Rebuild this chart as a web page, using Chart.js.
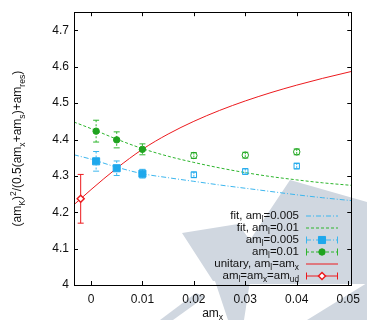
<!DOCTYPE html>
<html>
<head>
<meta charset="utf-8">
<script src="https://cdn.jsdelivr.net/npm/chart.js@4.4.1/dist/chart.umd.min.js"></script>
<style>
    body { margin: 0; background: #fff; }
    #wrap { width: 367px; height: 320px; }
</style>
</head>
<body>
<div id="wrap"><canvas id="chart" width="367" height="320"></canvas></div>
<script>
// tick labels
const xTicks = [0, 0.01, 0.02, 0.03, 0.04, 0.05];
const yTicks = [4, 4.1, 4.2, 4.3, 4.4, 4.5, 4.6, 4.7];

// fit curves
const fitX = [-0.0033, 0, 0.005, 0.01, 0.015, 0.02, 0.025, 0.03, 0.035, 0.04, 0.045, 0.0506];
const fitBlue = [4.358, 4.346, 4.324, 4.306, 4.295, 4.285, 4.275, 4.266, 4.257, 4.248, 4.240, 4.232];
const fitGreen = [4.448, 4.430, 4.401, 4.375, 4.354, 4.337, 4.322, 4.309, 4.298, 4.289, 4.281, 4.274];

// unitary curve
const unitaryX = [-0.0033, -0.002, 0, 0.005, 0.01, 0.015, 0.02, 0.025, 0.03, 0.035, 0.04, 0.045, 0.0506];
const unitaryY = [4.221, 4.237, 4.262, 4.321, 4.373, 4.415, 4.450, 4.480, 4.506, 4.529, 4.5495, 4.568, 4.587];

// data points, light valence masses (used in fit)
const lightX = [0.001, 0.005, 0.01];
const blueY = [4.340, 4.321, 4.306];
const blueErr = [0.027, 0.020, 0.012];
const greenY = [4.423, 4.399, 4.373];
const greenErr = [0.030, 0.022, 0.015];

// heavier valence masses (open symbols)
const heavyX = [0.02, 0.03, 0.04];
const blueOpenY = [4.303, 4.312, 4.327];
const blueOpenErr = [0.008, 0.008, 0.008];
const greenOpenY = [4.356, 4.357, 4.366];
const greenOpenErr = [0.008, 0.008, 0.008];

// physical point
const physX = [-0.002];
const physY = [4.237];
const physErr = [0.067];

const BLUE = '#1ea8ec';
const BLUE_LINE = '#3cb6ee';
const GREEN = '#1fa31f';
const GREEN_LINE = '#2db52d';
const RED = '#ec1a1e';
const FONT = '"Liberation Sans", Arial, sans-serif';

function pts(xs, ys) {
    return xs.map((x, i) => ({ x: x, y: ys[i] }));
}

// tiny markup: _{..} subscript, ^{..} superscript
function parseRich(str) {
    const parts = [];
    const re = /([_^])\{([^}]*)\}|([^_^]+)/g;
    let m;
    while ((m = re.exec(str))) {
        if (m[3]) parts.push({ t: m[3], m: 0 });
        else parts.push({ t: m[2], m: m[1] === '_' ? 1 : 2 });
    }
    return parts;
}

function drawRich(ctx, str, x, y, size, align) {
    const parts = parseRich(str);
    let w = 0;
    parts.forEach(p => {
        ctx.font = (p.m ? size * 0.72 : size) + 'px ' + FONT;
        p.w = ctx.measureText(p.t).width;
        w += p.w;
    });
    let cx = align === 'right' ? x - w : align === 'center' ? x - w / 2 : x;
    ctx.textAlign = 'left';
    ctx.textBaseline = 'alphabetic';
    parts.forEach(p => {
        ctx.font = (p.m ? size * 0.72 : size) + 'px ' + FONT;
        const dy = p.m === 1 ? size * 0.3 : p.m === 2 ? -size * 0.42 : 0;
        ctx.fillText(p.t, cx, y + dy);
        cx += p.w;
    });
}

function drawMarker(ctx, style, x, y, r, fill, stroke, lw) {
    ctx.save();
    ctx.beginPath();
    if (style === 'rect') {
        const s = Math.SQRT1_2 * r;
        ctx.rect(x - s, y - s, 2 * s, 2 * s);
    } else if (style === 'rectRot') {
        ctx.moveTo(x, y - r); ctx.lineTo(x + r, y); ctx.lineTo(x, y + r); ctx.lineTo(x - r, y); ctx.closePath();
    } else {
        ctx.arc(x, y, r, 0, Math.PI * 2);
    }
    ctx.fillStyle = fill;
    ctx.fill();
    ctx.lineWidth = lw;
    ctx.strokeStyle = stroke;
    ctx.stroke();
    ctx.restore();
}

// grey logo in the background
const watermark = {
    id: 'watermark',
    beforeDraw(chart) {
        const ctx = chart.ctx;
        const shapes = [
            [[290, 180], [367, 202], [367, 284], [250, 284], [213, 281], [182, 233], [238, 224], [250, 240]],
            [[215, 281], [250, 281], [244, 320], [228, 320]],
            [[307, 320], [367, 283], [367, 320]],
            [[160, 320], [173, 320], [205, 297], [196, 293]]
        ];
        ctx.save();
        ctx.fillStyle = '#d0d7e0';
        shapes.forEach(s => {
            ctx.beginPath();
            s.forEach((p, i) => i ? ctx.lineTo(p[0], p[1]) : ctx.moveTo(p[0], p[1]));
            ctx.closePath();
            ctx.fill();
        });
        ctx.restore();
    }
};

const errorBars = {
    id: 'errorBars',
    beforeDatasetsDraw(chart) {
        const ctx = chart.ctx;
        const xs = chart.scales.x, ys = chart.scales.y;
        chart.data.datasets.forEach(ds => {
            if (!ds.err) return;
            ctx.save();
            ctx.strokeStyle = ds.barColor;
            ctx.lineWidth = 1;
            ds.data.forEach((p, j) => {
                const x = xs.getPixelForValue(p.x);
                const y1 = ys.getPixelForValue(p.y + ds.err[j]);
                const y2 = ys.getPixelForValue(p.y - ds.err[j]);
                ctx.setLineDash(ds.barDash || []);
                ctx.beginPath();
                ctx.moveTo(x, y1); ctx.lineTo(x, y2);
                ctx.stroke();
                ctx.setLineDash([]);
                ctx.beginPath();
                ctx.moveTo(x - 3, y1); ctx.lineTo(x + 3, y1);
                ctx.moveTo(x - 3, y2); ctx.lineTo(x + 3, y2);
                ctx.stroke();
            });
            ctx.restore();
        });
    }
};

// box, inward ticks on all sides, axis titles
const frame = {
    id: 'frame',
    afterDraw(chart) {
        const ctx = chart.ctx;
        const a = chart.chartArea;
        const xs = chart.scales.x, ys = chart.scales.y;
        ctx.save();
        ctx.strokeStyle = '#000';
        ctx.lineWidth = 1;
        ctx.strokeRect(Math.round(a.left) + 0.5, Math.round(a.top) + 0.5,
            Math.round(a.right - a.left), Math.round(a.bottom - a.top));
        ctx.beginPath();
        xTicks.forEach(v => {
            const x = Math.round(xs.getPixelForValue(v)) + 0.5;
            ctx.moveTo(x, a.bottom); ctx.lineTo(x, a.bottom - 4);
            ctx.moveTo(x, a.top); ctx.lineTo(x, a.top + 4);
        });
        yTicks.forEach(v => {
            const y = Math.round(ys.getPixelForValue(v)) + 0.5;
            ctx.moveTo(a.left, y); ctx.lineTo(a.left + 4, y);
            ctx.moveTo(a.right, y); ctx.lineTo(a.right - 4, y);
        });
        ctx.stroke();

        ctx.fillStyle = '#111';
        drawRich(ctx, 'am_{x}', (a.left + a.right) / 2, 316.5, 12, 'center');
        ctx.translate(21, (a.top + a.bottom) / 2);
        ctx.rotate(-Math.PI / 2);
        drawRich(ctx, '(am_{K})^{2}/(0.5(am_{x}+am_{s})+am_{res})', 0, 0, 12, 'center');
        ctx.restore();
    }
};

// key in the lower right, gnuplot style
const keyBox = {
    id: 'keyBox',
    afterDraw(chart) {
        const ctx = chart.ctx;
        const sets = chart.data.datasets.filter(ds => ds.key !== undefined).sort((a, b) => a.key - b.key);
        sets.forEach((ds, i) => {
            const cy = 215.5 + 12 * i;
            ctx.save();
            ctx.fillStyle = '#111';
            drawRich(ctx, ds.label, 299, cy + 3, 11.5, 'right');
            const col = ds.keyColor || ds.borderColor;
            ctx.strokeStyle = col;
            ctx.lineWidth = 1;
            ctx.setLineDash(ds.keyDash || ds.borderDash || []);
            ctx.beginPath();
            ctx.moveTo(306, cy + 0.5); ctx.lineTo(338, cy + 0.5);
            ctx.stroke();
            ctx.setLineDash([]);
            if (ds.err) {
                ctx.beginPath();
                ctx.moveTo(306.5, cy - 3); ctx.lineTo(306.5, cy + 4);
                ctx.moveTo(337.5, cy - 3); ctx.lineTo(337.5, cy + 4);
                ctx.stroke();
                drawMarker(ctx, ds.pointStyle, 322, cy + 0.5, ds.pointRadius,
                    ds.pointBackgroundColor, ds.pointBorderColor, ds.pointBorderWidth);
            }
            ctx.restore();
        });
    }
};

document.addEventListener('DOMContentLoaded', () => {
    const ctx = document.getElementById('chart');

    new Chart(ctx, {
        type: 'scatter',
        data: {
            datasets: [
                {
                    label: 'fit, am_{l}=0.005', key: 0,
                    data: pts(fitX, fitBlue), showLine: true, order: 3,
                    borderColor: BLUE_LINE, borderWidth: 1, borderDash: [5, 2, 1, 2],
                    pointRadius: 0, cubicInterpolationMode: 'monotone'
                },
                {
                    label: 'fit, am_{l}=0.01', key: 1,
                    data: pts(fitX, fitGreen), showLine: true, order: 3,
                    borderColor: GREEN_LINE, borderWidth: 1, borderDash: [3, 2],
                    pointRadius: 0, cubicInterpolationMode: 'monotone'
                },
                {
                    label: 'unitary, am_{l}=am_{x}', key: 4,
                    data: pts(unitaryX, unitaryY), showLine: true, order: 3,
                    borderColor: RED, borderWidth: 1,
                    pointRadius: 0, cubicInterpolationMode: 'monotone'
                },
                {
                    label: 'am_{l}=0.005', key: 2,
                    data: pts(lightX, blueY), err: blueErr, order: 1,
                    barColor: BLUE_LINE, barDash: [2, 2], keyColor: BLUE_LINE, keyDash: [5, 2, 1, 2],
                    pointStyle: 'rect', pointRadius: 5,
                    pointBackgroundColor: BLUE, pointBorderColor: BLUE, pointBorderWidth: 1
                },
                {
                    label: 'am_{l}=0.01', key: 3,
                    data: pts(lightX, greenY), err: greenErr, order: 1,
                    barColor: GREEN_LINE, barDash: [2, 2], keyColor: GREEN_LINE, keyDash: [3, 2],
                    pointStyle: 'circle', pointRadius: 3.2,
                    pointBackgroundColor: GREEN, pointBorderColor: GREEN, pointBorderWidth: 1
                },
                {
                    label: 'am_{l}=am_{x}=am_{ud}', key: 5,
                    data: pts(physX, physY), err: physErr, order: 1,
                    barColor: RED, keyColor: RED,
                    pointStyle: 'rectRot', pointRadius: 3.5,
                    pointBackgroundColor: '#fff', pointBorderColor: RED, pointBorderWidth: 1.5
                },
                {
                    label: 'heavy 0.005',
                    data: pts(heavyX, blueOpenY), err: blueOpenErr, order: 1,
                    barColor: BLUE_LINE, barDash: [2, 1],
                    pointStyle: 'rect', pointRadius: 3.8,
                    pointBackgroundColor: 'rgba(0,0,0,0)', pointBorderColor: BLUE, pointBorderWidth: 1
                },
                {
                    label: 'heavy 0.01',
                    data: pts(heavyX, greenOpenY), err: greenOpenErr, order: 1,
                    barColor: GREEN_LINE, barDash: [2, 1],
                    pointStyle: 'circle', pointRadius: 3.2,
                    pointBackgroundColor: 'rgba(0,0,0,0)', pointBorderColor: GREEN, pointBorderWidth: 1
                }
            ]
        },
        options: {
            responsive: false,
            animation: false,
            devicePixelRatio: 1,
            layout: { padding: { top: 7, right: 14, left: 0, bottom: 0 } },
            plugins: {
                legend: { display: false },
                tooltip: { enabled: false }
            },
            scales: {
                x: {
                    type: 'linear',
                    min: -0.0033,
                    max: 0.0506,
                    afterBuildTicks: s => { s.ticks = xTicks.map(v => ({ value: v })); },
                    afterFit: s => { s.height = 35; },
                    grid: { display: false, drawTicks: false },
                    border: { display: false },
                    ticks: {
                        padding: 7,
                        color: '#111',
                        font: { family: FONT, size: 12 },
                        callback: v => v === 0 ? '0' : v.toFixed(2)
                    }
                },
                y: {
                    type: 'linear',
                    min: 4,
                    max: 4.75,
                    afterBuildTicks: s => { s.ticks = yTicks.map(v => ({ value: v })); },
                    afterFit: s => { s.width = 74; },
                    grid: { display: false, drawTicks: false },
                    border: { display: false },
                    ticks: {
                        padding: 5,
                        color: '#111',
                        font: { family: FONT, size: 12 },
                        callback: v => v === 4 ? '4' : v.toFixed(1)
                    }
                }
            }
        },
        plugins: [watermark, errorBars, frame, keyBox]
    });
});
</script>
</body>
</html>
